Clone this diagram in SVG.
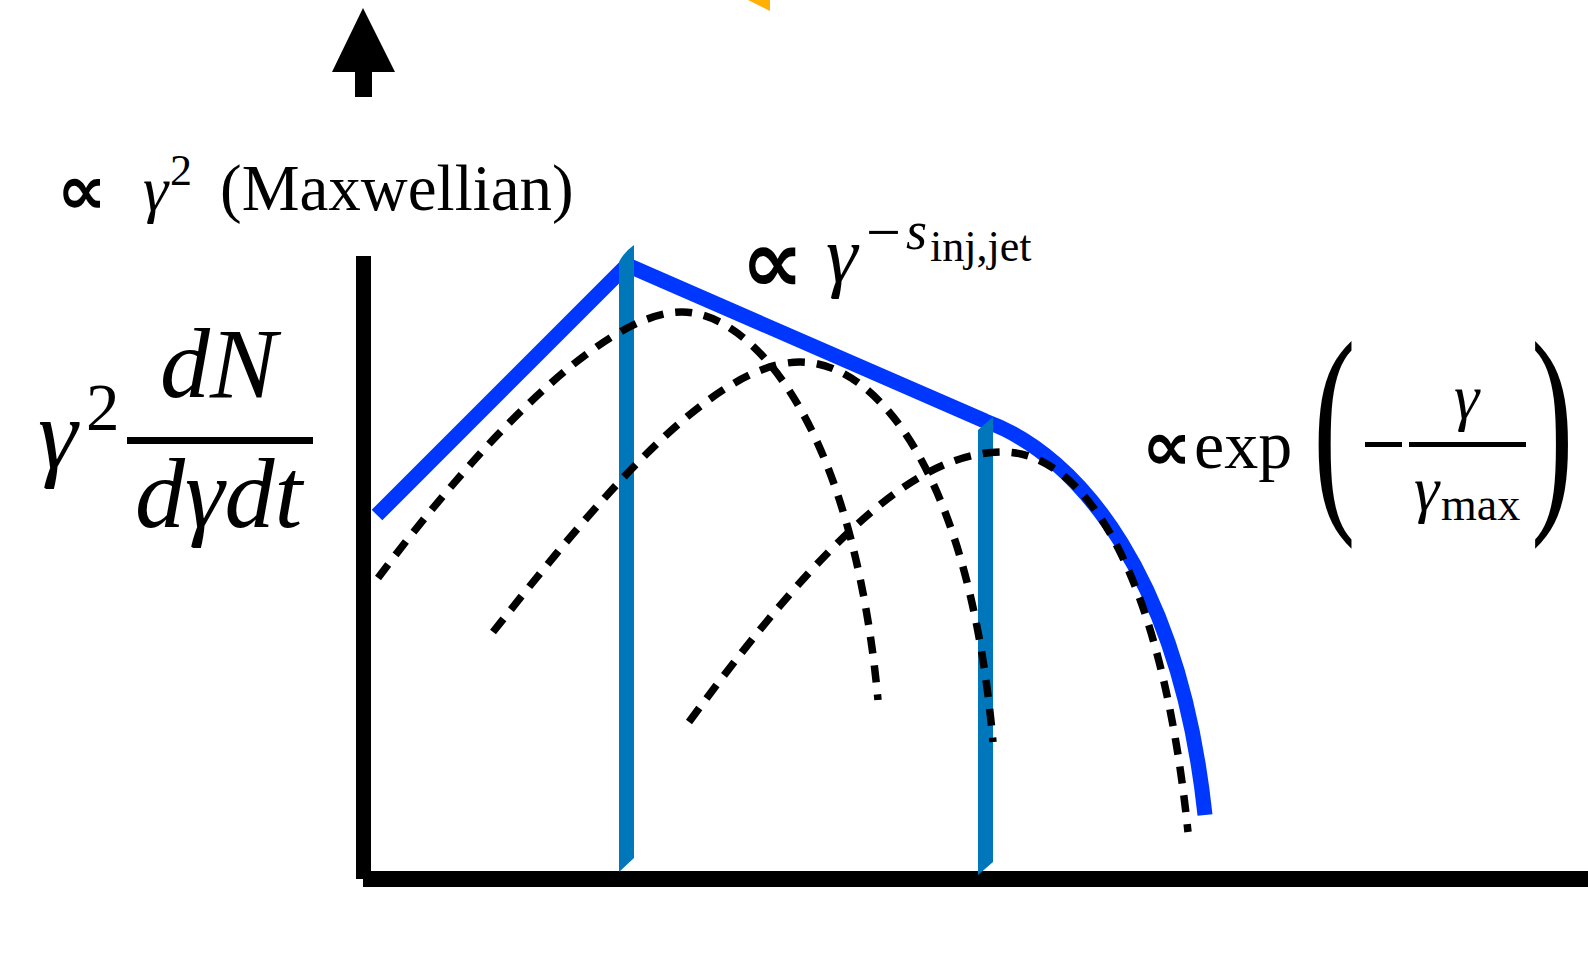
<svg xmlns="http://www.w3.org/2000/svg" width="1588" height="953" viewBox="0 0 1588 953">
<style>
.t{font-family:"Liberation Serif","DejaVu Serif",serif;fill:#000}
.i{font-style:italic}
.dash{fill:none;stroke:#000;stroke-width:7.5;stroke-dasharray:17 12}
.sym{font-family:"DejaVu Sans","Liberation Sans",sans-serif;font-weight:bold;fill:#000}
.bar{fill:#0077BB}
</style>
<rect width="1588" height="953" fill="#fff"/>
<g id="top-marks">
<polygon points="363,8 395,72 372,72 372,97 355,97 355,72 332,72" fill="#000"/>
<polygon points="748,0 770,0 770,11" fill="#FFB000"/>
</g>
<g id="axes">
<rect x="356" y="256" width="15" height="623" fill="#000"/>
<rect x="363" y="871" width="1225" height="16" fill="#000"/>
</g>
<g id="curves">
<path d="M377,515 L627,265 L985,421 C1080,455 1180,580 1205,815" fill="none" stroke="#0037FF" stroke-width="15" stroke-linejoin="round"/>
</g>
<g id="markers">
<path class="bar" d="M619,262 Q624,252 634,245 L634,858 L619,872 Z"/>
<path class="bar" d="M978,430 L993,417 L993,862 L978,875 Z"/>
</g>
<g id="components">
<path class="dash" d="M378,578 C470,455 600,312 682,312 C750,312 852,420 878,700"/>
<path class="dash" d="M493,632 C590,510 710,362 800,362 C880,362 970,480 993,742"/>
<path class="dash" d="M689,722 C830,530 920,452 1003,452 C1080,452 1160,560 1188,832"/>
</g>
<g id="label-maxwellian">
<text class="sym" x="57" y="214" font-size="70">∝</text>
<text class="t i" x="143" y="210" font-size="64">γ</text>
<text class="t" x="170" y="185" font-size="44">2</text>
<text class="t" x="220" y="210" font-size="65">(Maxwellian)</text>
</g>
<g id="label-powerlaw">
<text class="sym" x="741" y="292" font-size="88">∝</text>
<text class="t i" x="826" y="282" font-size="80">γ</text>
<text class="t" x="866" y="253" font-size="62">−</text>
<text class="t i" x="906" y="249" font-size="54">s</text>
<text class="t" x="930" y="261" font-size="44">inj,jet</text>
</g>
<g id="label-cutoff">
<text class="sym" x="1142" y="470" font-size="70">∝</text>
<text class="t" x="1194" y="468" font-size="68">exp</text>
<text class="t" transform="translate(1313,500) scale(1,1.78)" font-size="128">(</text>
<text class="t" transform="translate(1531,500) scale(1,1.78)" font-size="128">)</text>
<rect x="1365" y="442" width="37" height="5" fill="#000"/>
<rect x="1409" y="442" width="117" height="5" fill="#000"/>
<text class="t i" x="1454" y="418" font-size="64">γ</text>
<text class="t i" x="1414" y="510" font-size="64">γ</text>
<text class="t" x="1441" y="520" font-size="46">max</text>
</g>
<g id="label-yaxis">
<text class="t i" x="38" y="468" font-size="100">γ</text>
<text class="t" x="86" y="430" font-size="67">2</text>
<rect x="127" y="437" width="186" height="7" fill="#000"/>
<text class="t i" x="160" y="397" font-size="100">dN</text>
<text class="t i" x="135" y="527" font-size="100">dγdt</text>
</g>
</svg>
